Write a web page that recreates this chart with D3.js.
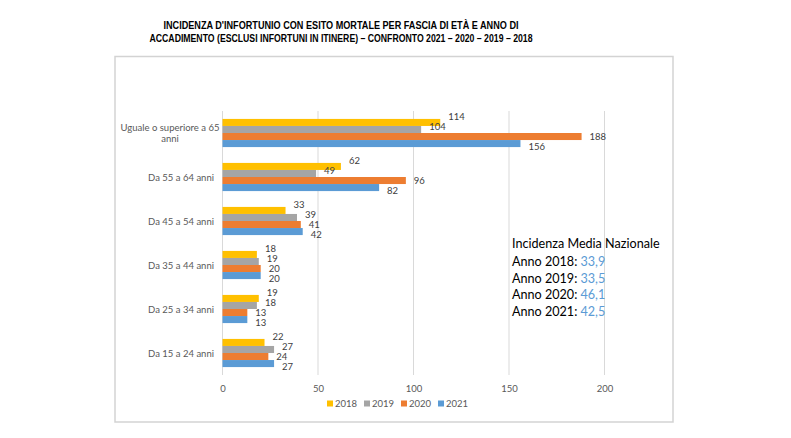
<!DOCTYPE html>
<html><head><meta charset="utf-8">
<script src="https://cdn.jsdelivr.net/npm/d3@7"></script>
<style>body{margin:0;background:#fff}svg{display:block}</style>
</head><body>
<svg id="c" width="791" height="438"></svg>
<script>
const categories = ["Uguale o superiore a 65 anni","Da 55 a 64 anni","Da 45 a 54 anni","Da 35 a 44 anni","Da 25 a 34 anni","Da 15 a 24 anni"];
const years = ["2018","2019","2020","2021"];
const v2018 = [114,62,33,18,19,22];
const v2019 = [104,49,39,19,18,27];
const v2020 = [188,96,41,20,13,24];
const v2021 = [156,82,42,20,13,27];
const xTicks = [0,50,100,150,200];
const colors = ["#FFC000","#A5A5A5","#ED7D31","#5B9BD5"];
const titleLines = ["INCIDENZA D'INFORTUNIO CON ESITO MORTALE PER FASCIA DI ETÀ E ANNO DI","ACCADIMENTO (ESCLUSI INFORTUNI IN ITINERE) – CONFRONTO 2021 – 2020 – 2019 – 2018"];
const noteTitle = "Incidenza Media Nazionale";
const noteYears = ["2018","2019","2020","2021"];
const noteValues = ["33,9","33,5","46,1","42,5"];

const series = [v2018,v2019,v2020,v2021];
const svg = d3.select("#c");
const font = "Lato, 'Open Sans', sans-serif";

// title
svg.selectAll("text.title").data(titleLines).join("text")
  .attr("x",341).attr("y",(d,i)=>29+i*13)
  .attr("text-anchor","middle")
  .attr("font-family","'Liberation Sans Narrow','Arial Narrow','Liberation Sans',sans-serif")
  .attr("font-weight","bold").attr("font-size",11)
  .attr("textLength",(d,i)=>i===0?355:383).attr("lengthAdjust","spacingAndGlyphs")
  .text(d=>d);

// box
svg.append("rect").attr("x",115).attr("y",56.5).attr("width",558).attr("height",365.5)
  .attr("fill","#fff").attr("stroke","#d3d3d3").attr("stroke-width",1.5);

const x = d3.scaleLinear().domain([0,200]).range([222.5,604.5]);
const y = d3.scaleBand().domain(categories).range([111,375]).paddingInner(0.36).paddingOuter(0.18);
const yInner = d3.scaleBand().domain(years).range([0,y.bandwidth()]);

// grid
svg.append("g").selectAll("line").data(xTicks).join("line")
  .attr("x1",d=>x(d)).attr("x2",d=>x(d)).attr("y1",111).attr("y2",375)
  .attr("stroke","#d9d9d9").attr("stroke-width",1);

// x tick labels
const xAxis = d3.axisBottom(x).tickValues(xTicks).tickSize(0).tickPadding(0);
const gx = svg.append("g").attr("transform","translate(0,385)").call(xAxis);
gx.select(".domain").remove();
gx.selectAll("text").attr("font-family",font).attr("font-size",9.5).attr("fill","#595959");

// category labels
const gy = svg.append("g");
categories.forEach(c=>{
  const cy = y(c)+y.bandwidth()/2;
  if(c.startsWith("Uguale")){
    gy.append("text").attr("x",170).attr("y",cy-2).attr("text-anchor","middle")
      .attr("font-family",font).attr("font-size",9.5).attr("fill","#595959").text("Uguale o superiore a 65");
    gy.append("text").attr("x",170).attr("y",cy+9).attr("text-anchor","middle")
      .attr("font-family",font).attr("font-size",9.5).attr("fill","#595959").text("anni");
  } else {
    gy.append("text").attr("x",214).attr("y",cy+3.5).attr("text-anchor","end")
      .attr("font-family",font).attr("font-size",9.5).attr("fill","#595959").text(c);
  }
});

// bars
const gb = svg.append("g");
series.forEach((s,si)=>{
  const yr = years[si];
  gb.selectAll("rect.s"+si).data(categories).join("rect")
    .attr("x",x(0)).attr("y",(c)=>y(c)+yInner(yr))
    .attr("width",(c,i)=>x(s[i])-x(0)).attr("height",yInner.bandwidth())
    .attr("fill",colors[si]);
  gb.selectAll("text.l"+si).data(categories).join("text")
    .attr("x",(c,i)=>x(s[i])+8)
    .attr("y",(c)=>y(c)+yInner(yr)+yInner.bandwidth()/2+3+(si-1.5)*3-1)
    .attr("font-family",font).attr("font-size",9.5).attr("fill","#404040")
    .text((c,i)=>s[i]);
});

// legend
const lg = svg.append("g");
const lx = [327,364,401,438];
years.forEach((yr,i)=>{
  lg.append("rect").attr("x",lx[i]).attr("y",400.5).attr("width",6).attr("height",6).attr("fill",colors[i]);
  lg.append("text").attr("x",lx[i]+8).attr("y",407).attr("font-family",font).attr("font-size",9.5)
    .attr("fill","#595959").text(yr);
});

// note
const ng = svg.append("g").attr("font-family","Lato, 'Open Sans', sans-serif").attr("font-size",12.6);
ng.append("text").attr("x",512).attr("y",248).attr("fill","#000").text(noteTitle);
noteYears.forEach((yr,i)=>{
  const t = ng.append("text").attr("x",512).attr("y",266+i*16.7);
  t.append("tspan").attr("fill","#000").text("Anno "+yr+": ");
  t.append("tspan").attr("fill","#5B9BD5").text(noteValues[i]);
});
</script>
</body></html>
